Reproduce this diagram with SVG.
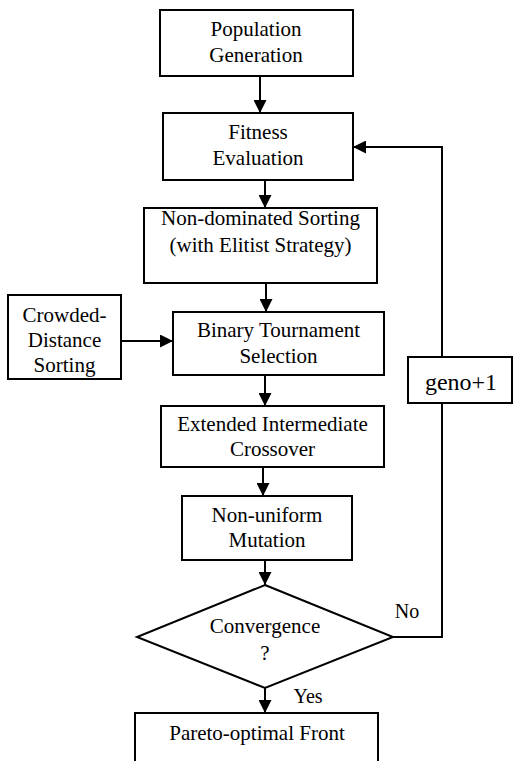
<svg xmlns="http://www.w3.org/2000/svg" width="513" height="761" viewBox="0 0 513 761">
<defs>
<style>
.box{fill:#fff;stroke:#000;stroke-width:2}
.t{font-family:"Liberation Serif","Times New Roman",serif;font-size:21px;text-anchor:middle;fill:#000}
.lbl{font-family:"Liberation Serif","Times New Roman",serif;font-size:20px;text-anchor:middle;fill:#000}
.c{fill:none;stroke:#000;stroke-width:2}
</style>
<marker id="ah" markerWidth="13" markerHeight="13" refX="13" refY="6.5" orient="auto" markerUnits="userSpaceOnUse">
<path d="M0,0 L13,6.5 L0,13 Z" fill="#000"/>
</marker>
</defs>
<rect width="513" height="761" fill="#fff"/>
<g id="connectors">
<line class="c" x1="260" y1="76" x2="260" y2="113" marker-end="url(#ah)"/>
<line class="c" x1="265" y1="180" x2="265" y2="208" marker-end="url(#ah)"/>
<line class="c" x1="266" y1="283" x2="266" y2="312" marker-end="url(#ah)"/>
<line class="c" x1="265" y1="375" x2="265" y2="406" marker-end="url(#ah)"/>
<line class="c" x1="263" y1="467" x2="263" y2="496" marker-end="url(#ah)"/>
<line class="c" x1="265" y1="560" x2="265" y2="585" marker-end="url(#ah)"/>
<line class="c" x1="265" y1="688" x2="265" y2="713" marker-end="url(#ah)"/>
<line class="c" x1="121" y1="341" x2="173" y2="341" marker-end="url(#ah)"/>
<polyline class="c" points="393,637 442,637 442,403"/>
<polyline class="c" points="442,357 442,147 353,147" marker-end="url(#ah)"/>
<text class="lbl" x="407" y="618">No</text>
<text class="lbl" x="308" y="703">Yes</text>
</g>
<g id="population">
<rect class="box" x="160" y="10" width="193" height="66"/>
<text class="t" x="256" y="36">Population</text>
<text class="t" x="256" y="62">Generation</text>
</g>
<g id="fitness">
<rect class="box" x="163" y="113" width="190" height="67"/>
<text class="t" x="258" y="139">Fitness</text>
<text class="t" x="258" y="165">Evaluation</text>
</g>
<g id="nondominated">
<rect class="box" x="144" y="208" width="233" height="75"/>
<text class="t" x="260.5" y="225">Non-dominated Sorting</text>
<text class="t" x="260.5" y="251.5">(with Elitist Strategy)</text>
</g>
<g id="crowded">
<rect class="box" x="8" y="295" width="113" height="84"/>
<text class="t" x="64.5" y="321.5">Crowded-</text>
<text class="t" x="64.5" y="346.5">Distance</text>
<text class="t" x="64.5" y="371.5">Sorting</text>
</g>
<g id="binary">
<rect class="box" x="173" y="312" width="211" height="63"/>
<text class="t" x="278.5" y="336.5">Binary Tournament</text>
<text class="t" x="278.5" y="362.5">Selection</text>
</g>
<g id="extended">
<rect class="box" x="161" y="406" width="223" height="61"/>
<text class="t" x="272.5" y="431">Extended Intermediate</text>
<text class="t" x="272.5" y="456">Crossover</text>
</g>
<g id="nonuniform">
<rect class="box" x="182" y="496" width="170" height="64"/>
<text class="t" x="267" y="521.5">Non-uniform</text>
<text class="t" x="267" y="546.5">Mutation</text>
</g>
<g id="convergence">
<polygon class="box" points="265,585 393,637 265,688 137,637"/>
<text class="t" x="265" y="633">Convergence</text>
<text class="t" x="265" y="660">?</text>
</g>
<g id="geno">
<rect class="box" x="408" y="357" width="104" height="46"/>
<text class="t" x="461" y="390" style="font-size:24px">geno+1</text>
</g>
<g id="pareto">
<rect class="box" x="135" y="713" width="243" height="60"/>
<text class="t" x="257" y="740">Pareto-optimal Front</text>
</g>
</svg>
